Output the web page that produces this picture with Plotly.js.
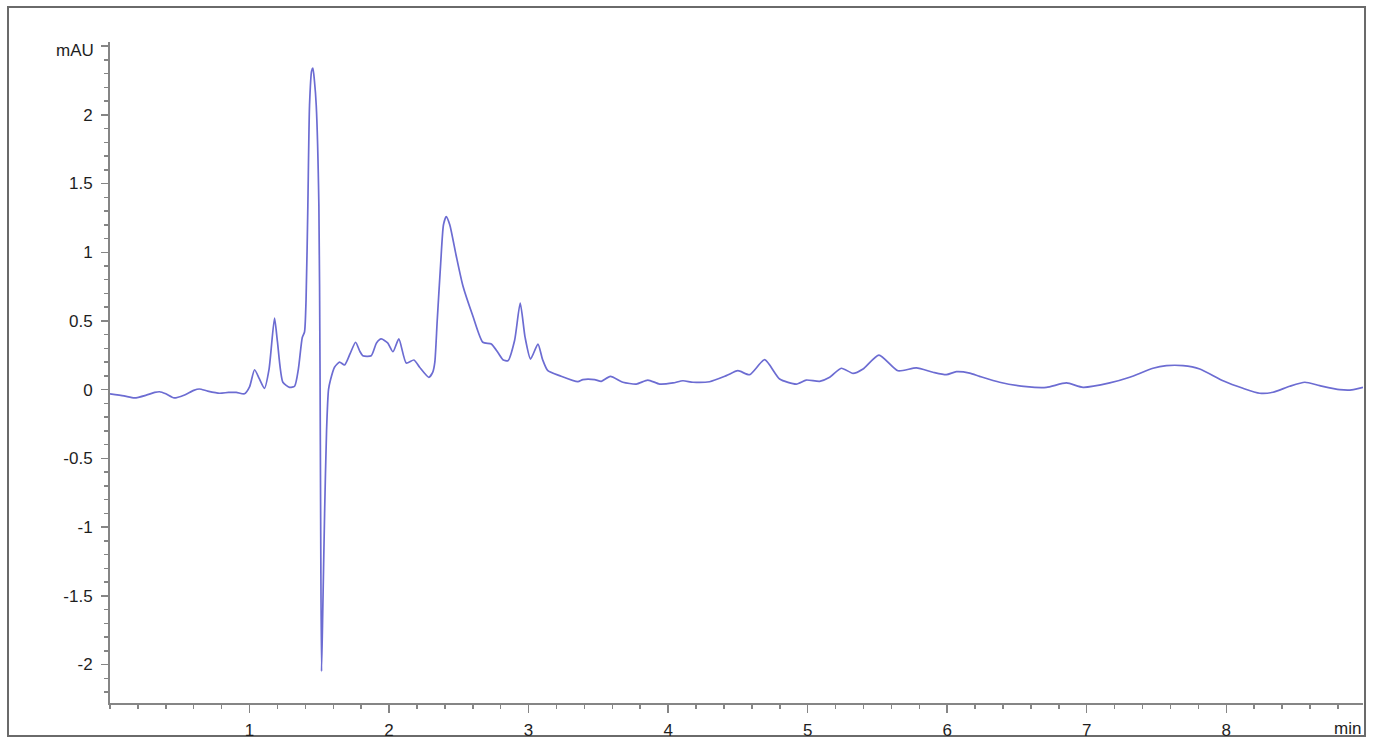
<!DOCTYPE html>
<html>
<head>
<meta charset="utf-8">
<script src="https://cdn.plot.ly/plotly-3.0.1.min.js"></script>
<style>
  html, body { margin: 0; padding: 0; background: #fff; }
  #chart { width: 1373px; height: 746px; }
</style>
</head>
<body>
<div id="chart"></div>
<script>
// retention time (min) and detector signal (mAU)
const retentionTime = [
  0.00, 0.10, 0.176, 0.26, 0.32, 0.355, 0.40, 0.46, 0.53, 0.60, 0.64, 0.70, 0.785, 0.85, 0.905, 0.964,
  1.00, 1.036, 1.07, 1.107, 1.14, 1.179, 1.20, 1.239, 1.287, 1.323, 1.35, 1.378, 1.394, 1.405, 1.418,
  1.43, 1.445, 1.454, 1.465, 1.478, 1.497, 1.505, 1.51, 1.516, 1.525, 1.538, 1.552, 1.566, 1.58,
  1.609, 1.645, 1.681, 1.72, 1.76, 1.79, 1.812, 1.872, 1.91, 1.944, 1.99, 2.028, 2.07, 2.123, 2.178,
  2.219, 2.285, 2.314, 2.328, 2.345, 2.37, 2.39, 2.41, 2.435, 2.48, 2.529, 2.6, 2.672, 2.733, 2.78,
  2.816, 2.852, 2.9, 2.94, 2.975, 3.014, 3.067, 3.1, 3.138, 3.222, 3.353, 3.389, 3.473, 3.521, 3.586,
  3.676, 3.772, 3.855, 3.939, 4.035, 4.106, 4.178, 4.297, 4.417, 4.5, 4.584, 4.692, 4.799, 4.919, 4.99,
  5.086, 5.158, 5.241, 5.325, 5.397, 5.511, 5.647, 5.779, 5.898, 5.994, 6.066, 6.161, 6.233, 6.376,
  6.568, 6.711, 6.855, 6.974, 7.165, 7.308, 7.475, 7.571, 7.69, 7.81, 7.977, 8.12, 8.24, 8.335, 8.455,
  8.563, 8.67, 8.813, 8.9, 8.98
];
const signal = [
  -0.03, -0.045, -0.06, -0.04, -0.02, -0.015, -0.03, -0.06, -0.04, -0.005, 0.005, -0.01, -0.026, -0.02, -0.02, -0.03,
  0.02, 0.145, 0.08, 0.01, 0.15, 0.52, 0.35, 0.054, 0.017, 0.025, 0.15, 0.38, 0.42, 0.65, 1.34,
  2.07, 2.32, 2.34, 2.25, 2.07, 1.34, 0.2, -1.0, -2.05, -1.6, -0.9, -0.3, 0.0, 0.07,
  0.163, 0.2, 0.18, 0.26, 0.345, 0.28, 0.247, 0.247, 0.34, 0.369, 0.34, 0.276, 0.369, 0.194, 0.216,
  0.163, 0.09, 0.13, 0.2, 0.5, 0.92, 1.2, 1.26, 1.2, 0.98, 0.756, 0.538, 0.345, 0.332, 0.27,
  0.218, 0.211, 0.36, 0.63, 0.38, 0.223, 0.332, 0.22, 0.138, 0.102, 0.058, 0.073, 0.073, 0.061, 0.097,
  0.054, 0.041, 0.07, 0.041, 0.049, 0.065, 0.054, 0.058, 0.102, 0.138, 0.109, 0.218, 0.078, 0.041, 0.07,
  0.061, 0.09, 0.156, 0.119, 0.151, 0.252, 0.138, 0.158, 0.127, 0.109, 0.131, 0.121, 0.097, 0.054,
  0.022, 0.017, 0.049, 0.017, 0.049, 0.09, 0.156, 0.175, 0.175, 0.151, 0.065, 0.01, -0.026, -0.019, 0.025,
  0.054, 0.029, 0.0, -0.002, 0.017
];

const xTicks = [1, 2, 3, 4, 5, 6, 7, 8];
const yTicks = [-2, -1.5, -1, -0.5, 0, 0.5, 1, 1.5, 2, 2.5];
const yTickText = ["-2", "-1.5", "-1", "-0.5", "0", "0.5", "1", "1.5", "2", ""];

const axisColor = "#858585";
const font = { family: "Liberation Sans, Arial, sans-serif", size: 17, color: "#1e1e1e" };

const trace = {
  x: retentionTime,
  y: signal,
  type: "scatter",
  mode: "lines",
  line: { color: "rgb(108,108,210)", width: 1.7, shape: "spline", smoothing: 0.6 },
  hoverinfo: "x+y"
};

const layout = {
  width: 1373,
  height: 746,
  margin: { l: 110, r: 10, t: 42, b: 43 },
  paper_bgcolor: "#fff",
  plot_bgcolor: "#fff",
  showlegend: false,
  font: font,
  xaxis: {
    range: [0, 8.98],
    tickmode: "array",
    tickvals: xTicks,
    ticks: "outside",
    ticklen: 8,
    tickwidth: 1.5,
    tickcolor: axisColor,
    showline: true,
    linecolor: axisColor,
    linewidth: 2,
    showgrid: false,
    zeroline: false,
    ticklabelstandoff: 3,
    minor: { tickmode: "linear", tick0: 0, dtick: 0.2, ticks: "outside", ticklen: 4, tickcolor: axisColor, showgrid: false }
  },
  yaxis: {
    range: [-2.28, 2.53],
    tickmode: "array",
    tickvals: yTicks,
    ticktext: yTickText,
    ticks: "outside",
    ticklen: 7,
    tickwidth: 1.5,
    tickcolor: axisColor,
    showline: true,
    linecolor: axisColor,
    linewidth: 2,
    showgrid: false,
    zeroline: false,
    ticklabelstandoff: 5,
    minor: { tickmode: "linear", tick0: 0, dtick: 0.1, ticks: "outside", ticklen: 4, tickcolor: axisColor, showgrid: false }
  },
  shapes: [
    // outer frame round the whole figure
    { type: "rect", xref: "paper", yref: "paper", x0: -0.0814, x1: 1.0016, y0: -0.05, y1: 1.053,
      line: { color: "#6a6a6a", width: 2 }, fillcolor: "rgba(0,0,0,0)", layer: "below" }
  ],
  annotations: [
    { text: "mAU", xref: "paper", yref: "y", x: 0, y: 2.5, xanchor: "right", yanchor: "middle",
      xshift: -14, yshift: -4, showarrow: false, font: font },
    { text: "min", xref: "paper", yref: "paper", x: 1, y: 0, xanchor: "right", yanchor: "top",
      yshift: -14, showarrow: false, font: font }
  ]
};

Plotly.newPlot("chart", [trace], layout, { staticPlot: true });
</script>
</body>
</html>
